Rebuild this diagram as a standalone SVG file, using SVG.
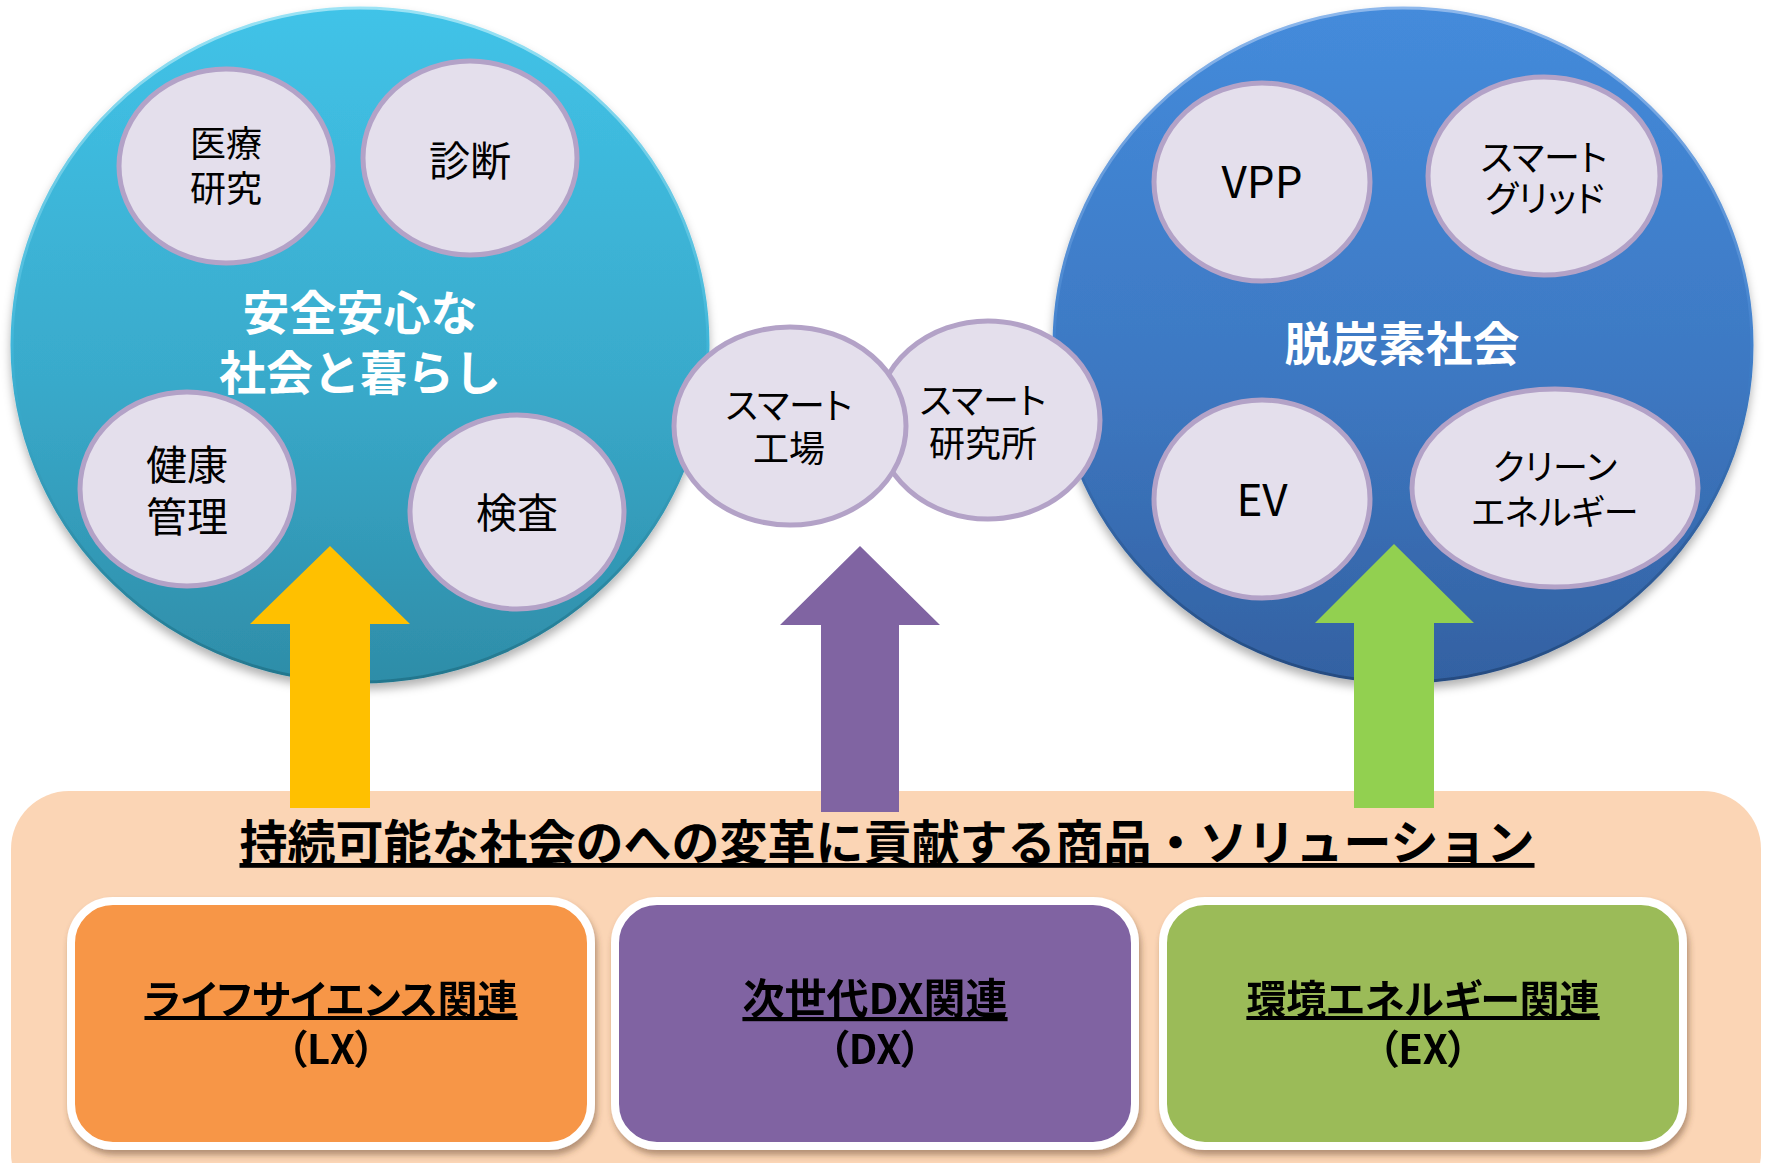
<svg xmlns="http://www.w3.org/2000/svg" width="1765" height="1163" viewBox="0 0 1765 1163">
<defs>
<style>
.t{font-family:"Noto Sans CJK JP","Noto Sans CJK SC",sans-serif;text-anchor:middle}
.lb{fill:#000;font-weight:400}
.kana{font-feature-settings:"palt"}
.oval{fill:#E4DFEC;stroke:#B3A2C7;stroke-width:5}
.ttl{fill:#fff;font-weight:700;font-size:47px}
.box{stroke:#fff;stroke-width:8}
.bt{fill:#000;font-weight:700;font-size:40px;font-feature-settings:"palt"}
.ul{text-decoration:underline}
</style>
<linearGradient id="gL" x1="0" y1="0" x2="0" y2="1">
<stop offset="0" stop-color="#41C3E8"/>
<stop offset="0.55" stop-color="#39AACB"/>
<stop offset="1" stop-color="#2E8DA8"/>
</linearGradient>
<linearGradient id="gR" x1="0" y1="0" x2="0" y2="1">
<stop offset="0" stop-color="#448BDB"/>
<stop offset="0.55" stop-color="#3D78C2"/>
<stop offset="1" stop-color="#3361A2"/>
</linearGradient>
<linearGradient id="rimL" x1="0" y1="0" x2="0" y2="1">
<stop offset="0" stop-color="#9BE3F5"/>
<stop offset="0.5" stop-color="#3FB5D8"/>
<stop offset="1" stop-color="#23768D"/>
</linearGradient>
<linearGradient id="rimR" x1="0" y1="0" x2="0" y2="1">
<stop offset="0" stop-color="#8EB8EC"/>
<stop offset="0.5" stop-color="#4080CC"/>
<stop offset="1" stop-color="#254B80"/>
</linearGradient>
<filter id="sh" x="-10%" y="-10%" width="120%" height="125%">
<feDropShadow dx="0" dy="6" stdDeviation="5" flood-color="#000" flood-opacity="0.3"/>
</filter>
<filter id="shb" x="-10%" y="-10%" width="120%" height="125%">
<feDropShadow dx="2" dy="5" stdDeviation="3" flood-color="#5a3a20" flood-opacity="0.45"/>
</filter>
</defs>
<rect width="1765" height="1163" fill="#fff"/>

<g id="panel">
<rect x="11" y="791" width="1750" height="420" rx="58" fill="#FBD5B5"/>
<text class="t ul" x="887" y="860" font-size="48" font-weight="700" fill="#000">持続可能な社会のへの変革に貢献する商品・ソリューション</text>
</g>

<g id="box-lx" filter="url(#shb)">
<rect class="box" x="71" y="901" width="520" height="245" rx="42" fill="#F79646"/>
<text class="t bt" x="331" y="1014"><tspan class="ul">ライフサイエンス関連</tspan><tspan x="331" dy="50">（LX）</tspan></text>
</g>
<g id="box-dx" filter="url(#shb)">
<rect class="box" x="615" y="901" width="520" height="245" rx="42" fill="#8064A2"/>
<text class="t bt" x="875" y="1014"><tspan class="ul" font-size="42">次世代DX関連</tspan><tspan x="875" dy="50">（DX）</tspan></text>
</g>
<g id="box-ex" filter="url(#shb)">
<rect class="box" x="1163" y="901" width="520" height="245" rx="42" fill="#9BBB59"/>
<text class="t bt" x="1423" y="1014"><tspan class="ul">環境エネルギー関連</tspan><tspan x="1423" dy="50">（EX）</tspan></text>
</g>

<g id="circle-safety">
<ellipse cx="360" cy="345" rx="348" ry="337" fill="url(#gL)" stroke="url(#rimL)" stroke-width="3" filter="url(#sh)"/>
<text class="t ttl" x="360" y="330">安全安心な<tspan x="360" dy="60">社会と暮らし</tspan></text>
</g>
<g id="circle-decarbon">
<ellipse cx="1403" cy="345" rx="349" ry="337" fill="url(#gR)" stroke="url(#rimR)" stroke-width="3" filter="url(#sh)"/>
<text class="t ttl" x="1402" y="361">脱炭素社会</text>
</g>

<g id="n-iryo">
<ellipse class="oval" cx="226" cy="166" rx="107" ry="97"/>
<text class="t lb" x="226" y="157" font-size="36">医療<tspan x="226" dy="45">研究</tspan></text>
</g>
<g id="n-shindan">
<ellipse class="oval" cx="470" cy="158" rx="107" ry="97"/>
<text class="t lb" x="470" y="176" font-size="41">診断</text>
</g>
<g id="n-kenko">
<ellipse class="oval" cx="187" cy="489" rx="107" ry="97"/>
<text class="t lb" x="187" y="480" font-size="41">健康<tspan x="187" dy="52">管理</tspan></text>
</g>
<g id="n-kensa">
<ellipse class="oval" cx="517" cy="512" rx="107" ry="97"/>
<text class="t lb" x="517" y="528" font-size="41">検査</text>
</g>

<g id="n-vpp">
<ellipse class="oval" cx="1262" cy="182" rx="108" ry="99"/>
<text class="t lb" x="1262" y="198" font-size="44">VPP</text>
</g>
<g id="n-grid">
<ellipse class="oval" cx="1544" cy="176" rx="116" ry="99"/>
<text class="t lb kana" x="1544" y="171" font-size="36">スマート<tspan x="1545" dy="41">グリッド</tspan></text>
</g>
<g id="n-ev">
<ellipse class="oval" cx="1262" cy="499" rx="108" ry="99"/>
<text class="t lb" x="1262" y="516" font-size="44">EV</text>
</g>
<g id="n-clean">
<ellipse class="oval" cx="1555" cy="488" rx="143" ry="99"/>
<text class="t lb kana" x="1555" y="480" font-size="35">クリーン<tspan x="1555" dy="45">エネルギー</tspan></text>
</g>

<g id="n-lab">
<ellipse class="oval" cx="988" cy="420" rx="112" ry="99"/>
<text class="t lb kana" x="983" y="414" font-size="36">スマート<tspan x="983" dy="43">研究所</tspan></text>
</g>
<g id="n-factory">
<ellipse class="oval" cx="790" cy="426" rx="116" ry="99"/>
<text class="t lb kana" x="789" y="419" font-size="36">スマート<tspan x="789" dy="43">工場</tspan></text>
</g>

<g id="connectors">
<path d="M330,546 L410,624 L370,624 L370,808 L290,808 L290,624 L250,624 Z" fill="#FFC000"/>
<path d="M860,546 L940,625 L899,625 L899,812 L821,812 L821,625 L780,625 Z" fill="#8064A2"/>
<path d="M1394,544 L1474,623 L1434,623 L1434,808 L1354,808 L1354,623 L1315,623 Z" fill="#92D050"/>
</g>
</svg>
